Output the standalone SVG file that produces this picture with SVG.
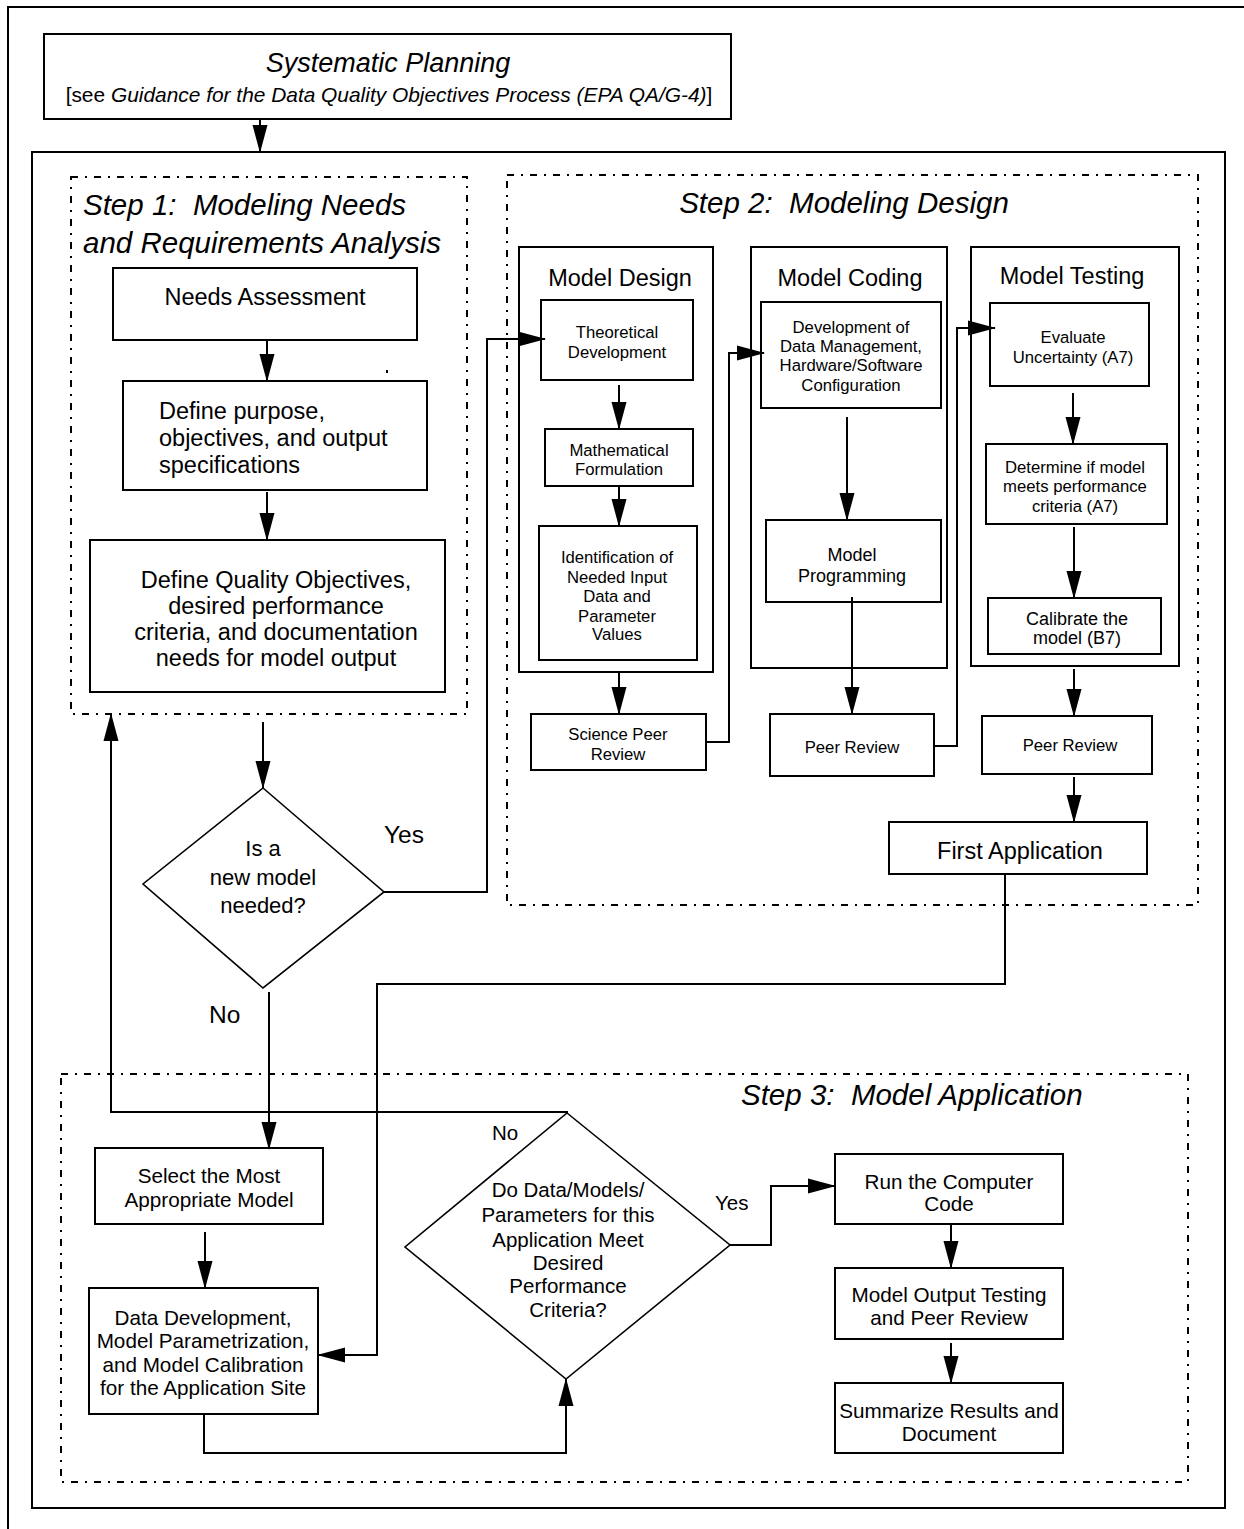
<svg xmlns="http://www.w3.org/2000/svg" width="1244" height="1529" viewBox="0 0 1244 1529">
<style>
text{font-family:"Liberation Sans",Arial,sans-serif;fill:#000}
.c{text-anchor:middle}
.it{font-style:italic}
.ttl{font-size:29.5px;font-style:italic}
.f235{font-size:23.5px}
.f22{font-size:22px}
.f24{font-size:24.5px}
.f20{font-size:20.5px}
.f207{font-size:20.7px}
.f18{font-size:18px}
.f167{font-size:16.7px}
.box{fill:#fff;stroke:#000;stroke-width:2}
.dia{fill:#fff;stroke:#000;stroke-width:1.6}
.frame{fill:none;stroke:#000;stroke-width:2}
.dash{fill:none;stroke:#000;stroke-width:2;stroke-dasharray:7 7 2 7}
.ln{fill:none;stroke:#000;stroke-width:2}
.ar{fill:none;stroke:#000;stroke-width:2;marker-end:url(#ah)}
</style>
<defs>
<marker id="ah" markerUnits="userSpaceOnUse" markerWidth="28" markerHeight="16" viewBox="0 0 28 16" refX="27" refY="8" orient="auto">
<path d="M0,0.5 L28,8 L0,15.5 Z" fill="#000"/>
</marker>
</defs>
<rect width="1244" height="1529" fill="#fff"/>

<g id="page-border">
<path class="frame" d="M8,1529 V7 H1244"/>
</g>

<g id="systematic-planning">
<rect class="box" x="44" y="34" width="687" height="85"/>
<text class="c it" x="388" y="72" style="font-size:27px">Systematic Planning</text>
<text class="c" x="389" y="102" style="font-size:20.9px">[see <tspan class="it">Guidance for the Data Quality Objectives Process (EPA QA/G-4)</tspan>]</text>
</g>

<g id="main-frame">
<rect class="frame" x="32" y="152" width="1193" height="1356"/>
</g>

<g id="step1">
<rect class="dash" x="71" y="177" width="396" height="537"/>
<text class="ttl" x="83" y="215">Step 1:&#160; Modeling Needs</text>
<text class="ttl" x="83" y="253">and Requirements Analysis</text>
</g>

<g id="needs-assessment">
<rect class="box" x="113" y="268" width="304" height="72"/>
<text class="c f235" x="265" y="305">Needs Assessment</text>
</g>

<g id="stray-mark">
<rect x="386" y="370" width="2" height="3" fill="#000"/>
</g>

<g id="define-purpose">
<rect class="box" x="123" y="381" width="304" height="109"/>
<text class="f235" x="159" y="419">Define purpose,</text>
<text class="f235" x="159" y="446">objectives, and output</text>
<text class="f235" x="159" y="473">specifications</text>
</g>

<g id="define-quality">
<rect class="box" x="90" y="540" width="355" height="152"/>
<text class="c f235" x="276" y="588">Define Quality Objectives,</text>
<text class="c f235" x="276" y="614">desired performance</text>
<text class="c f235" x="276" y="640">criteria, and documentation</text>
<text class="c f235" x="276" y="666">needs for model output</text>
</g>

<g id="decision-new-model">
<polygon class="dia" points="263,788 384,892 263,988 143,884"/>
<text class="c f22" x="263" y="856">Is a</text>
<text class="c f22" x="263" y="885">new model</text>
<text class="c f22" x="263" y="913">needed?</text>
</g>

<g id="label-yes-1"><text class="f24" x="384" y="843">Yes</text></g>
<g id="label-no-1"><text class="f24" x="209" y="1023">No</text></g>

<g id="step2">
<rect class="dash" x="507" y="175" width="691" height="730"/>
<text class="ttl c" x="844" y="213">Step 2:&#160; Modeling Design</text>
</g>

<g id="model-design">
<rect class="box" x="519" y="247" width="194" height="425"/>
<text class="c f235" x="620" y="286">Model Design</text>
</g>
<g id="theoretical-development">
<rect class="box" x="541" y="300" width="152" height="80"/>
<text class="c f167" x="617" y="338">Theoretical</text>
<text class="c f167" x="617" y="358">Development</text>
</g>
<g id="mathematical-formulation">
<rect class="box" x="545" y="429" width="148" height="57"/>
<text class="c f167" x="619" y="456">Mathematical</text>
<text class="c f167" x="619" y="475">Formulation</text>
</g>
<g id="identification">
<rect class="box" x="539" y="526" width="158" height="134"/>
<text class="c f167" x="617" y="563">Identification of</text>
<text class="c f167" x="617" y="583">Needed Input</text>
<text class="c f167" x="617" y="602">Data and</text>
<text class="c f167" x="617" y="622">Parameter</text>
<text class="c f167" x="617" y="640">Values</text>
</g>
<g id="science-peer-review">
<rect class="box" x="531" y="714" width="175" height="56"/>
<text class="c f167" x="618" y="740">Science Peer</text>
<text class="c f167" x="618" y="760">Review</text>
</g>

<g id="model-coding">
<rect class="box" x="751" y="247" width="196" height="421"/>
<text class="c f235" x="850" y="286">Model Coding</text>
</g>
<g id="data-management">
<rect class="box" x="761" y="302" width="180" height="106"/>
<text class="c f167" x="851" y="333">Development of</text>
<text class="c f167" x="851" y="352">Data Management,</text>
<text class="c f167" x="851" y="371">Hardware/Software</text>
<text class="c f167" x="851" y="391">Configuration</text>
</g>
<g id="model-programming">
<rect class="box" x="766" y="520" width="175" height="82"/>
<text class="c f18" x="852" y="561">Model</text>
<text class="c f18" x="852" y="582">Programming</text>
</g>
<g id="peer-review-coding">
<rect class="box" x="770" y="714" width="164" height="62"/>
<text class="c f167" x="852" y="753">Peer Review</text>
</g>

<g id="model-testing">
<rect class="box" x="971" y="247" width="208" height="419"/>
<text class="c f235" x="1072" y="284">Model Testing</text>
</g>
<g id="evaluate-uncertainty">
<rect class="box" x="990" y="303" width="159" height="83"/>
<text class="c f167" x="1073" y="343">Evaluate</text>
<text class="c f167" x="1073" y="363">Uncertainty (A7)</text>
</g>
<g id="determine-performance">
<rect class="box" x="986" y="444" width="181" height="80"/>
<text class="c f167" x="1075" y="473">Determine if model</text>
<text class="c f167" x="1075" y="492">meets performance</text>
<text class="c f167" x="1075" y="512">criteria (A7)</text>
</g>
<g id="calibrate">
<rect class="box" x="988" y="598" width="173" height="56"/>
<text class="c f18" x="1077" y="625">Calibrate the</text>
<text class="c f18" x="1077" y="644">model (B7)</text>
</g>
<g id="peer-review-testing">
<rect class="box" x="982" y="716" width="170" height="58"/>
<text class="c f167" x="1070" y="751">Peer Review</text>
</g>
<g id="first-application">
<rect class="box" x="889" y="822" width="258" height="52"/>
<text class="c f235" x="1020" y="859">First Application</text>
</g>

<g id="step3">
<rect class="dash" x="61" y="1074" width="1127" height="408"/>
<text class="ttl" x="741" y="1105">Step 3:&#160; Model Application</text>
</g>
<g id="select-model">
<rect class="box" x="95" y="1148" width="228" height="76"/>
<text class="c f207" x="209" y="1183">Select the Most</text>
<text class="c f207" x="209" y="1207">Appropriate Model</text>
</g>
<g id="data-development">
<rect class="box" x="89" y="1288" width="229" height="126"/>
<text class="c f207" x="203" y="1325">Data Development,</text>
<text class="c f207" x="203" y="1348">Model Parametrization,</text>
<text class="c f207" x="203" y="1372">and Model Calibration</text>
<text class="c f207" x="203" y="1395">for the Application Site</text>
</g>
<g id="decision-criteria">
<polygon class="dia" points="567,1113 730,1245 566,1379 405,1247"/>
<text class="c f20" x="568" y="1197">Do Data/Models/</text>
<text class="c f20" x="568" y="1222">Parameters for this</text>
<text class="c f20" x="568" y="1247">Application Meet</text>
<text class="c f20" x="568" y="1270">Desired</text>
<text class="c f20" x="568" y="1293">Performance</text>
<text class="c f20" x="568" y="1317">Criteria?</text>
</g>
<g id="label-no-2"><text class="f20" x="492" y="1140">No</text></g>
<g id="label-yes-2"><text class="f20" x="715" y="1210">Yes</text></g>
<g id="run-code">
<rect class="box" x="835" y="1154" width="228" height="70"/>
<text class="c f207" x="949" y="1189">Run the Computer</text>
<text class="c f207" x="949" y="1211">Code</text>
</g>
<g id="output-testing">
<rect class="box" x="835" y="1268" width="228" height="71"/>
<text class="c f207" x="949" y="1302">Model Output Testing</text>
<text class="c f207" x="949" y="1325">and Peer Review</text>
</g>
<g id="summarize">
<rect class="box" x="835" y="1383" width="228" height="70"/>
<text class="c f207" x="949" y="1418">Summarize Results and</text>
<text class="c f207" x="949" y="1441">Document</text>
</g>

<g id="connectors">
<polyline class="ar" points="260,119 260,152"/>
<polyline class="ar" points="267,340 267,381"/>
<polyline class="ar" points="267,492 267,540"/>
<polyline class="ar" points="263,722 263,788"/>
<polyline class="ar" points="384,892 487,892 487,339 545,339"/>
<polyline class="ar" points="269,992 269,1149"/>
<polyline class="ar" points="568,1112 111,1112 111,714"/>
<polyline class="ar" points="1005,874 1005,984 377,984 377,1355 318,1355"/>
<polyline class="ar" points="619,385 619,429"/>
<polyline class="ar" points="619,486 619,526"/>
<polyline class="ar" points="619,672 619,714"/>
<polyline class="ar" points="706,742 729,742 729,353 764,353"/>
<polyline class="ar" points="847,417 847,520"/>
<polyline class="ar" points="852,597 852,714"/>
<polyline class="ar" points="934,746 957,746 957,328 995,328"/>
<polyline class="ar" points="1073,393 1073,444"/>
<polyline class="ar" points="1074,527 1074,598"/>
<polyline class="ar" points="1074,669 1074,716"/>
<polyline class="ar" points="1074,777 1074,822"/>
<polyline class="ar" points="205,1232 205,1288"/>
<polyline class="ar" points="204,1414 204,1453 566,1453 566,1379"/>
<polyline class="ar" points="730,1245 771,1245 771,1186 835,1186"/>
<polyline class="ar" points="951,1224 951,1268"/>
<polyline class="ar" points="951,1343 951,1383"/>
</g>
</svg>
